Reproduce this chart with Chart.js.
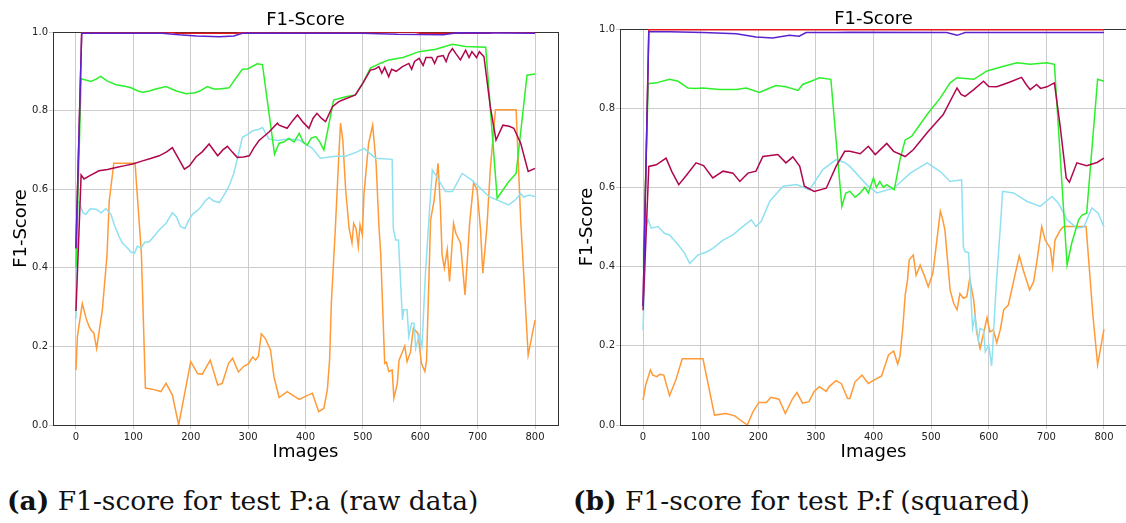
<!DOCTYPE html>
<html>
<head>
<meta charset="utf-8">
<script src="https://cdn.jsdelivr.net/npm/chart.js@4/dist/chart.umd.min.js"></script>
<style>
  body { margin: 0; width: 1126px; height: 523px; overflow: hidden; background: #fff; position: relative; }
  canvas { position: absolute; top: 0; }
  #c1 { left: 0; }
  #c2 { left: 567px; }
  .cap { position: absolute; top: 488px; font-family: "DejaVu Serif", serif; font-size: 26.5px; line-height: 1; white-space: nowrap; color: #111; }
  .cap b { font-weight: bold; }
</style>
</head>
<body>
<canvas id="c1" width="563" height="470"></canvas>
<canvas id="c2" width="560" height="470"></canvas>
<div class="cap" style="left:7px"><b>(a)</b> F1-score for test P:a (raw data)</div>
<div class="cap" style="left:573px"><b>(b)</b> F1-score for test P:f (squared)</div>
<script>
// Axis ticks and labels
const xTicks = [0, 100, 200, 300, 400, 500, 600, 700, 800];
const yTicks = [0, 0.2, 0.4, 0.6, 0.8, 1.0];
const chartTitle = 'F1-Score';
const xTitle = 'Images';
const yTitle = 'F1-Score';

// Test P:a (raw data) - [image, f1]
const aOrange = [[0,0.14],[2.5,0.225],[11,0.309],[18,0.27],[23,0.25],[27,0.24],[31,0.235],[36,0.195],[46,0.293],[54,0.43],[58,0.57],[66,0.666],[103,0.666],[110,0.52],[114,0.437],[121,0.094],[136,0.09],[148,0.085],[157,0.106],[168,0.076],[179,0.0],[200,0.161],[212,0.131],[220,0.129],[234,0.165],[247,0.102],[255,0.106],[266,0.157],[273,0.170],[283,0.135],[293,0.150],[300,0.155],[308,0.173],[313,0.165],[318,0.175],[323,0.232],[330,0.22],[339,0.191],[345,0.123],[354,0.07],[368,0.085],[389,0.065],[412,0.081],[423,0.034],[432,0.042],[438,0.089],[442,0.165],[445,0.309],[452,0.5],[458,0.683],[461,0.768],[465,0.725],[470,0.598],[476,0.5],[481,0.463],[484,0.513],[488,0.5],[492,0.454],[495,0.509],[499,0.484],[502,0.59],[510,0.717],[517,0.763],[523,0.666],[528,0.505],[531,0.437],[538,0.157],[541,0.16],[545,0.136],[551,0.14],[554,0.068],[560,0.106],[563,0.165],[573,0.201],[577,0.161],[583,0.186],[588,0.246],[596,0.233],[602,0.157],[608,0.136],[611,0.165],[618,0.522],[624,0.57],[631,0.666],[635,0.556],[638,0.433],[642,0.399],[647,0.446],[651,0.365],[658,0.513],[662,0.488],[670,0.463],[678,0.331],[682,0.42],[686,0.513],[693,0.617],[699,0.598],[705,0.497],[709,0.386],[716,0.501],[722,0.65],[731,0.802],[767,0.802],[775,0.522],[788,0.178],[800,0.267]];
const aBlue = [[0,0.27],[3,0.57],[6,0.566],[12,0.54],[17,0.536],[25,0.55],[35,0.549],[44,0.54],[52,0.551],[61,0.536],[67,0.509],[75,0.48],[81,0.463],[90,0.45],[96,0.44],[102,0.437],[107,0.455],[113,0.45],[120,0.465],[128,0.467],[136,0.48],[145,0.496],[157,0.513],[168,0.54],[175,0.53],[182,0.505],[190,0.5],[196,0.52],[203,0.536],[215,0.55],[225,0.57],[232,0.579],[240,0.57],[250,0.566],[260,0.59],[267,0.609],[275,0.64],[282,0.681],[290,0.732],[300,0.74],[308,0.749],[318,0.752],[325,0.757],[336,0.728],[351,0.724],[370,0.728],[389,0.725],[412,0.704],[426,0.679],[452,0.684],[470,0.684],[490,0.695],[502,0.704],[522,0.679],[551,0.676],[553,0.5],[557,0.471],[562,0.471],[569,0.267],[571,0.293],[577,0.293],[580,0.225],[585,0.259],[589,0.259],[592,0.195],[598,0.229],[603,0.2],[609,0.386],[615,0.522],[621,0.649],[627,0.636],[644,0.594],[656,0.594],[673,0.640],[690,0.623],[720,0.581],[754,0.56],[766,0.573],[775,0.589],[780,0.58],[790,0.585],[800,0.581]];
const aGreen = [[0,0.40],[1,0.45],[9,0.881],[26,0.874],[35,0.88],[43,0.887],[55,0.875],[70,0.866],[85,0.862],[96,0.858],[108,0.85],[116,0.847],[128,0.85],[139,0.855],[157,0.861],[175,0.85],[192,0.843],[205,0.845],[215,0.849],[229,0.861],[240,0.855],[250,0.855],[267,0.858],[276,0.877],[290,0.905],[299,0.906],[316,0.919],[325,0.917],[346,0.689],[354,0.717],[362,0.72],[371,0.729],[380,0.72],[389,0.742],[396,0.72],[403,0.712],[410,0.73],[418,0.734],[425,0.72],[432,0.70],[449,0.827],[470,0.835],[487,0.84],[500,0.87],[513,0.908],[530,0.92],[545,0.929],[570,0.935],[598,0.95],[627,0.956],[656,0.969],[679,0.963],[714,0.961],[734,0.577],[754,0.619],[767,0.64],[786,0.89],[800,0.893]];
const aCrimson = [[0,0.29],[9,0.636],[14,0.626],[25,0.635],[40,0.647],[55,0.65],[70,0.655],[85,0.66],[99,0.664],[116,0.672],[130,0.678],[145,0.685],[158,0.695],[168,0.706],[178,0.68],[189,0.651],[198,0.66],[209,0.682],[220,0.695],[232,0.715],[247,0.685],[256,0.7],[264,0.709],[272,0.695],[281,0.681],[292,0.682],[302,0.685],[310,0.705],[319,0.724],[336,0.745],[351,0.768],[354,0.763],[368,0.755],[378,0.775],[386,0.789],[396,0.77],[406,0.755],[413,0.78],[420,0.793],[428,0.78],[435,0.772],[447,0.81],[458,0.823],[470,0.83],[487,0.84],[500,0.87],[513,0.903],[520,0.905],[528,0.912],[533,0.895],[538,0.91],[545,0.886],[550,0.905],[558,0.9],[569,0.912],[580,0.92],[585,0.905],[590,0.925],[598,0.933],[605,0.915],[610,0.935],[620,0.935],[625,0.92],[630,0.937],[640,0.94],[645,0.925],[650,0.945],[656,0.958],[662,0.945],[670,0.929],[679,0.954],[685,0.935],[690,0.95],[698,0.935],[703,0.95],[711,0.937],[722,0.81],[732,0.725],[744,0.763],[755,0.76],[763,0.755],[775,0.717],[788,0.645],[800,0.653]];
const aPurple = [[0,0.45],[10,0.997],[150,0.997],[180,0.993],[210,0.99],[250,0.988],[275,0.99],[290,0.997],[500,0.997],[560,0.994],[640,0.993],[665,0.998],[800,0.997]];
const aRed = [[0,0.45],[10,1.0],[160,1.0],[175,0.997],[280,0.997],[295,1.0],[590,1.0],[600,0.997],[720,0.997],[730,1.0],[800,1.0]];

// Test P:f (squared)
const fOrange = [[0,0.063],[4.6,0.101],[12.7,0.139],[17,0.126],[24,0.122],[29,0.128],[36,0.126],[46,0.074],[57,0.114],[68,0.167],[104,0.167],[124,0.025],[144,0.029],[159,0.023],[181,0.0],[191,0.034],[201,0.057],[214,0.057],[222,0.070],[236,0.065],[247,0.029],[259,0.065],[267,0.082],[277,0.055],[288,0.059],[297,0.085],[306,0.097],[318,0.085],[323,0.097],[335,0.112],[344,0.105],[355,0.067],[359,0.067],[368,0.109],[380,0.126],[391,0.105],[403,0.115],[414,0.124],[426,0.177],[435,0.187],[442,0.154],[446,0.174],[451,0.248],[455,0.328],[459,0.366],[462,0.417],[469,0.429],[474,0.378],[481,0.404],[488,0.378],[495,0.349],[503,0.383],[510,0.467],[516,0.54],[520,0.52],[524,0.492],[533,0.341],[539,0.308],[545,0.291],[550,0.332],[556,0.320],[562,0.324],[567,0.370],[574,0.315],[579,0.235],[585,0.193],[591,0.231],[597,0.271],[602,0.235],[608,0.240],[614,0.208],[620,0.240],[626,0.291],[634,0.303],[643,0.362],[653,0.427],[660,0.391],[671,0.341],[678,0.362],[684,0.417],[692,0.501],[698,0.467],[707,0.446],[711,0.4],[715,0.467],[724,0.492],[730,0.501],[769,0.501],[781,0.274],[789,0.152],[800,0.242]];
const fBlue = [[0,0.24],[5,0.5],[9,0.518],[14,0.497],[26,0.501],[37,0.484],[46,0.48],[61,0.455],[72,0.434],[81,0.408],[95,0.429],[110,0.437],[121,0.446],[139,0.467],[156,0.48],[173,0.501],[188,0.518],[196,0.501],[205,0.514],[220,0.565],[243,0.603],[266,0.607],[289,0.594],[312,0.645],[335,0.670],[350,0.663],[359,0.653],[388,0.607],[406,0.586],[435,0.598],[464,0.636],[493,0.662],[516,0.64],[533,0.615],[553,0.619],[556,0.45],[559,0.438],[565,0.435],[572,0.244],[576,0.274],[582,0.215],[585,0.244],[591,0.24],[594,0.185],[600,0.202],[605,0.149],[613,0.353],[621,0.518],[624,0.59],[643,0.586],[666,0.565],[689,0.552],[710,0.577],[721,0.56],[736,0.518],[753,0.497],[765,0.5],[779,0.548],[790,0.535],[800,0.5]];
const fGreen = [[0,0.39],[1,0.447],[9,0.862],[23,0.864],[46,0.873],[61,0.868],[78,0.851],[90,0.85],[104,0.851],[133,0.847],[162,0.847],[179,0.851],[202,0.84],[220,0.851],[231,0.857],[248,0.854],[269,0.845],[277,0.86],[295,0.870],[306,0.877],[326,0.873],[345,0.552],[352,0.586],[359,0.59],[368,0.575],[377,0.586],[385,0.6],[391,0.586],[400,0.624],[405,0.6],[411,0.615],[417,0.6],[423,0.607],[430,0.6],[436,0.594],[446,0.670],[455,0.72],[466,0.729],[493,0.784],[516,0.826],[533,0.864],[545,0.877],[574,0.873],[597,0.894],[626,0.906],[649,0.915],[672,0.911],[701,0.915],[714,0.911],[736,0.404],[744,0.459],[756,0.518],[762,0.53],[770,0.535],[789,0.873],[800,0.868]];
const fCrimson = [[0,0.29],[10,0.653],[23,0.657],[40,0.674],[50,0.64],[62,0.607],[75,0.63],[92,0.662],[105,0.655],[121,0.624],[139,0.641],[156,0.636],[168,0.615],[182,0.636],[196,0.641],[208,0.678],[234,0.683],[248,0.662],[260,0.677],[272,0.653],[280,0.603],[297,0.59],[318,0.598],[335,0.653],[350,0.691],[359,0.691],[377,0.685],[391,0.704],[403,0.683],[423,0.711],[435,0.691],[455,0.678],[469,0.695],[493,0.738],[521,0.784],[545,0.851],[552,0.835],[559,0.83],[574,0.847],[591,0.868],[600,0.855],[614,0.854],[625,0.86],[637,0.866],[657,0.878],[665,0.86],[672,0.847],[683,0.86],[690,0.85],[701,0.854],[714,0.864],[724,0.754],[734.5,0.624],[740,0.613],[753,0.662],[770,0.655],[788,0.663],[800,0.674]];
const fPurple = [[0,0.3],[10,0.993],[46,0.993],[104,0.991],[162,0.988],[196,0.98],[225,0.977],[254,0.984],[271,0.982],[283,0.991],[335,0.991],[359,0.992],[527,0.991],[545,0.984],[559,0.991],[800,0.991]];
const fRed = [[0,0.3],[10,0.998],[800,0.998]];

const colors = {
    red: '#e8161a',
    purple: '#5b22cf',
    crimson: '#b0064d',
    green: '#2cf02a',
    blue: '#8fe1f2',
    orange: '#ff9a36',
};

function toPoints(arr) {
    return arr.map(p => ({ x: p[0], y: p[1] }));
}

function line(data, color) {
    return {
        data: toPoints(data),
        borderColor: color,
        borderWidth: 1.5,
        pointRadius: 0,
        tension: 0,
        fill: false,
    };
}

const tickFont = { family: 'DejaVu Sans', size: 10 };
const labelFont = { family: 'DejaVu Sans', size: 18 };

// Build one panel; sizes are forced so the plot area sits where the figure has it
function makeChart(id, series, box) {
    const ctx = document.getElementById(id).getContext('2d');
    return new Chart(ctx, {
        type: 'line',
        data: {
            // first dataset ends up on top
            datasets: [
                line(series.purple, colors.purple),
                line(series.red, colors.red),
                line(series.crimson, colors.crimson),
                line(series.green, colors.green),
                line(series.blue, colors.blue),
                line(series.orange, colors.orange),
            ],
        },
        options: {
            responsive: false,
            animation: false,
            layout: { padding: 0 },
            plugins: { legend: { display: false }, tooltip: { enabled: false } },
            scales: {
                x: {
                    type: 'linear',
                    position: 'bottom',
                    min: -40,
                    max: 840,
                    afterBuildTicks: s => { s.ticks = xTicks.map(v => ({ value: v })); },
                    afterFit: s => { s.height = 45; },
                    grid: { color: '#cccccc', lineWidth: 1, tickLength: 4 },
                    border: { color: '#333333', width: 1 },
                    ticks: { font: tickFont, color: '#222222', padding: 2, maxRotation: 0 },
                    title: { display: true, text: xTitle, font: labelFont, color: '#000', padding: { top: 0, bottom: 7 } },
                },
                y: {
                    type: 'linear',
                    position: 'left',
                    min: 0,
                    max: 1,
                    afterBuildTicks: s => { s.ticks = yTicks.map(v => ({ value: v })); },
                    afterFit: s => { s.width = box.left; },
                    grid: { color: '#cccccc', lineWidth: 1, tickLength: 4 },
                    border: { color: '#333333', width: 1 },
                    ticks: { font: tickFont, color: '#222222', padding: 1, callback: v => v.toFixed(1) },
                    title: { display: true, text: yTitle, font: labelFont, color: '#000', padding: { top: box.yTitlePad, bottom: 0 } },
                },
                top: {
                    type: 'linear',
                    position: 'top',
                    min: -40,
                    max: 840,
                    afterFit: s => { s.height = box.top; },
                    grid: { display: false },
                    border: { color: '#333333', width: 1 },
                    ticks: { display: false },
                    title: { display: true, text: chartTitle, font: labelFont, color: '#000', padding: { top: box.titlePad, bottom: 0 } },
                },
                right: {
                    type: 'linear',
                    position: 'right',
                    min: 0,
                    max: 1,
                    afterFit: s => { s.width = box.right; },
                    grid: { display: false },
                    border: { color: '#333333', width: 1 },
                    ticks: { display: false },
                },
            },
        },
    });
}

makeChart('c1', { red: aRed, purple: aPurple, crimson: aCrimson, green: aGreen, blue: aBlue, orange: aOrange },
    { left: 53, top: 32, right: 5, yTitlePad: 10.5, titlePad: 10 });
makeChart('c2', { red: fRed, purple: fPurple, crimson: fCrimson, green: fGreen, blue: fBlue, orange: fOrange },
    { left: 53, top: 29, right: 0, yTitlePad: 9.5, titlePad: 8.5 });
</script>
</body>
</html>
